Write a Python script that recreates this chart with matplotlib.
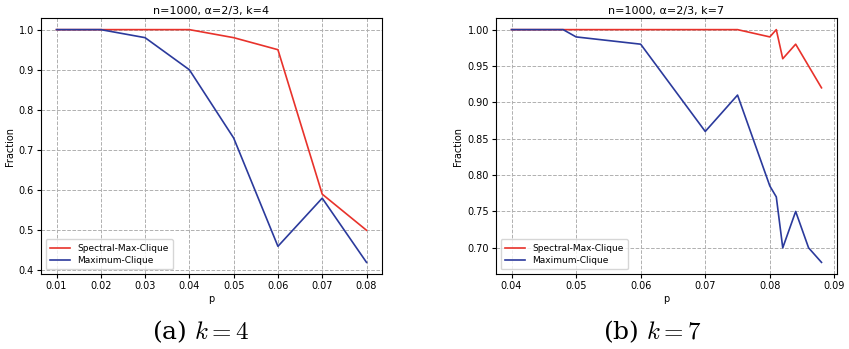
import matplotlib.pyplot as plt

plt.rcParams['mathtext.fontset'] = 'cm'

p_k4 = [0.01, 0.02, 0.03, 0.04, 0.05, 0.06, 0.07, 0.08]
spectral_k4 = [1.0, 1.0, 1.0, 1.0, 0.98, 0.95, 0.59, 0.50]
maxclique_k4 = [1.0, 1.0, 0.98, 0.90, 0.73, 0.46, 0.58, 0.42]

p_k7 = [0.04, 0.048, 0.05, 0.06, 0.07, 0.075, 0.08, 0.081, 0.082, 0.084, 0.086, 0.088]
spectral_k7 = [1.0, 1.0, 1.0, 1.0, 1.0, 1.0, 0.99, 1.0, 0.96, 0.98, 0.95, 0.92]
maxclique_k7 = [1.0, 1.0, 0.99, 0.98, 0.86, 0.91, 0.785, 0.77, 0.70, 0.75, 0.70, 0.68]

titles = ['n=1000, α=2/3, k=4', 'n=1000, α=2/3, k=7']
captions = ['(a) $k = 4$', '(b) $k = 7$']

red = '#e8322b'
blue = '#2b3a9c'

fig = plt.figure(figsize=(8.49, 3.49), dpi=100)
ax1 = fig.add_axes([41/849, 1 - 274/349, 341/849, 256/349])
ax2 = fig.add_axes([496/849, 1 - 274/349, 341/849, 256/349])

for ax, p, s, m, t in [(ax1, p_k4, spectral_k4, maxclique_k4, titles[0]),
                       (ax2, p_k7, spectral_k7, maxclique_k7, titles[1])]:
    ax.plot(p, s, color=red, lw=1.2, label='Spectral-Max-Clique')
    ax.plot(p, m, color=blue, lw=1.2, label='Maximum-Clique')
    ax.grid(True, ls='--', color='#b0b0b0', lw=0.7)
    ax.set_title(t, fontsize=8, pad=3)
    ax.set_xlabel('p', fontsize=7, labelpad=2)
    ax.set_ylabel('Fraction', fontsize=7, labelpad=3)
    ax.tick_params(labelsize=7, length=3, pad=2)
    ax.legend(loc='lower left', fontsize=6.5, handlelength=2.2, borderpad=0.5,
              labelspacing=0.35)

ax1.set_xticks(p_k4)
ax2.set_xticks([0.04, 0.05, 0.06, 0.07, 0.08, 0.09])

fig.text(201/849, 1 - 332/349, captions[0], ha='center', va='center',
         fontsize=18, family='serif')
fig.text(652/849, 1 - 332/349, captions[1], ha='center', va='center',
         fontsize=18, family='serif')

fig.savefig('out.png', dpi=100)
